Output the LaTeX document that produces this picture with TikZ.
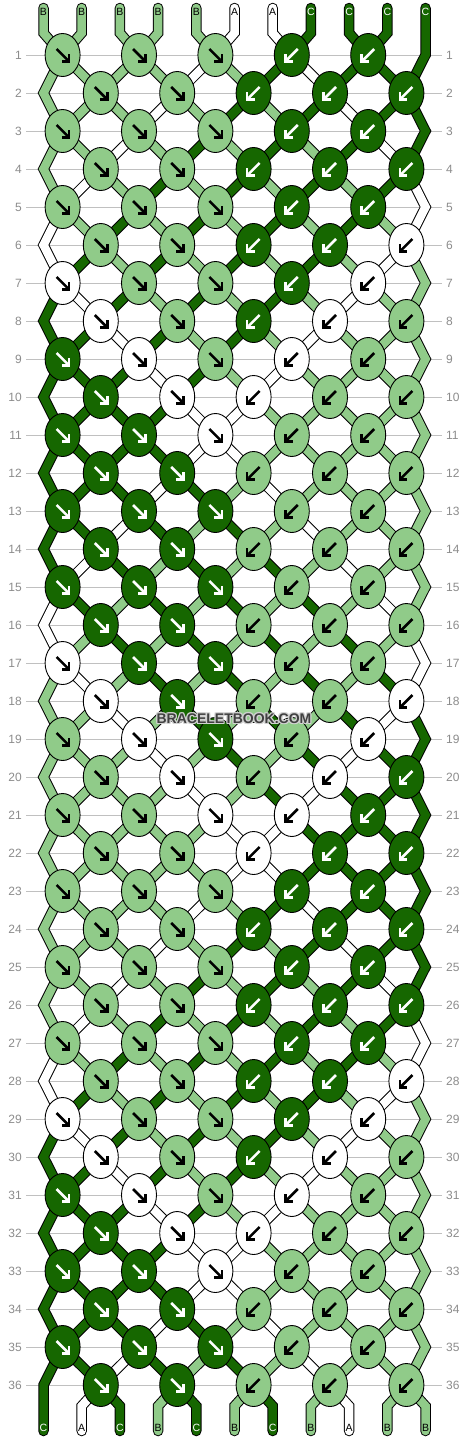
\documentclass[tikz,border=0pt]{standalone}
\usepackage{fontspec}
\setmainfont{Liberation Sans}
\definecolor{lg}{RGB}{144,203,137}
\definecolor{dg}{RGB}{22,103,0}
\definecolor{gline}{RGB}{192,192,192}
\definecolor{gtext}{RGB}{140,140,140}
\newcommand\posof[2]{\ifnum#2<11 \pgfmathtruncatemacro#1{#2+1}\else\pgfmathtruncatemacro#1{22-#2}\fi}
\newcommand\codeof[2]{\ifnum#2<6 \def#1{1}\else\ifnum#2<8 \def#1{0}\else\def#1{2}\fi\fi}
\newcommand\colname[1]{\ifcase#1 white\or lg\or dg\fi}
\newcommand\letname[1]{\ifcase#1 A\or B\or C\fi}
\newcommand\mkthread[1]{%
  \posof\pz{#1}%
  \pgfmathsetmacro\xz{43.5+38.2*(\pz-1)}%
  \xdef\tp{(\xz,8) -- (\xz,33)}%
  \foreach \r in {1,...,36} {%
    \pgfmathtruncatemacro\ia{mod(#1+\r-1,22)}%
    \pgfmathtruncatemacro\ib{mod(#1+\r,22)}%
    \posof\pa\ia
    \posof\pb\ib
    \pgfmathsetmacro\xx{43.5+38.2*((\pa+\pb)/2-1)}%
    \pgfmathsetmacro\yy{55+38*(\r-1)}%
    \xdef\tp{\tp -- (\xx,\yy)}%
  }%
  \pgfmathtruncatemacro\ie{mod(#1+36,22)}%
  \posof\pe\ie
  \pgfmathsetmacro\xe{43.5+38.2*(\pe-1)}%
  \xdef\tp{\tp -- (\xe,1406) -- (\xe,1431)}%
  \codeof\cc\pz
  \edef\tc{\colname\cc}%
}
\tikzset{
  rowlab/.style={text=gtext, font=\fontsize{12}{12}\selectfont, inner sep=0pt},
  strlab/.style={font=\fontsize{10.5}{10.5}\selectfont, inner sep=0pt},
  knotline/.style={line width=0.9, draw=black},
  arrowline/.style={line width=2.6}
}
\begin{document}
\begin{tikzpicture}[x=1pt,y=-1pt]
\useasboundingbox (0,0) rectangle (468,1440);
\fill[white] (0,0) rectangle (468,1440);
% row guide lines and numbers
\foreach \r in {1,...,36} {
  \pgfmathsetmacro\yy{55+38*(\r-1)}
  \draw[gline, line width=1] (26,\yy) -- (442,\yy);
  \node[rowlab, anchor=east] (ll\r) at (22,\yy) {\r};
  \node[rowlab, anchor=west] (rl\r) at (446,\yy) {\r};
}
% thread borders
\foreach \i in {0,2,...,20} {
  \mkthread{\i}
  \edef\cmd{\noexpand\draw[line width=10.5, black, line cap=round, line join=miter] \tp;}
  \cmd
}
% thread fills and end labels
\foreach \i in {0,2,...,20} {
  \mkthread{\i}
  \edef\cmd{\noexpand\draw[line width=8.5, \tc, line cap=round, line join=miter] \tp;}
  \cmd
  \ifnum\cc=2 \def\lc{white}\else\def\lc{black}\fi
  \node[strlab, text=\lc] (top\i) at (\xz,12) {\letname\cc};
  \node[strlab, text=\lc] (bot\i) at (\xe,1428) {\letname\cc};
}
% knots
\foreach \r in {1,...,36} {
  \pgfmathtruncatemacro\od{mod(\r,2)}
  \pgfmathsetmacro\yy{55+38*(\r-1)}
  \foreach \k in {0,...,4} {
    \pgfmathtruncatemacro\p{2-\od+2*\k}
    \pgfmathtruncatemacro\F{\k<2+\od}
    \pgfmathtruncatemacro\q{\p+1-\F}
    \ifnum\F=1 \pgfmathtruncatemacro\ix{mod(\q-\r+44,22)}\else\pgfmathtruncatemacro\ix{mod(89-\q-\r,22)}\fi
    \posof\pz\ix
    \codeof\cc\pz
    \pgfmathsetmacro\xx{43.5+38.2*(\p-0.5)}
    \edef\kf{\colname\cc}
    \ifnum\cc=2 \def\ac{white}\else\def\ac{black}\fi
    \ifnum\F=1 \def\sx{1}\else\def\sx{-1}\fi
    \draw[knotline, fill=\kf] (\xx,\yy) ellipse [x radius=17.5, y radius=21.5];
    \begin{scope}[shift={(\xx,\yy)}, xscale=\sx]
      \draw[arrowline, draw=\ac] (-6,-6) -- (5,5);
      \draw[arrowline, draw=\ac, line join=miter] (6.5,-1) -- (6.5,6.5) -- (-1,6.5);
    \end{scope}
  }
}
% watermark
\foreach \dx/\dy in {-1/0,1/0,0/-1,0/1,-1/-1,1/1,-1/1,1/-1} {
  \node[font=\bfseries\fontsize{14}{14}\selectfont, text=gray!35] at (234+\dx,719+\dy) {BRACELETBOOK.COM};
}
\node[font=\bfseries\fontsize{14}{14}\selectfont, text=black!75] (wm) at (234,719) {BRACELETBOOK.COM};
\end{tikzpicture}
\end{document}
